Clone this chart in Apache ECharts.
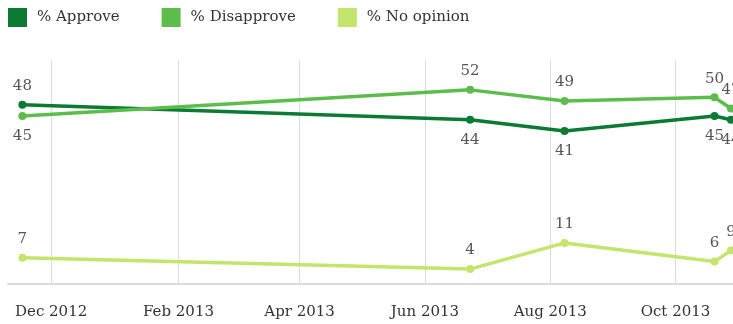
<!DOCTYPE html>
<html>
<head>
<meta charset="utf-8">
<script src="https://cdn.jsdelivr.net/npm/echarts@6/dist/echarts.min.js"></script>
<style>
  html, body { margin: 0; padding: 0; background: #fff; }
  #main { width: 733px; height: 324px; }
</style>
</head>
<body>
<div id="main"></div>
<script>
// poll dates and results
var dates = ['2012-11-17', '2013-06-23', '2013-08-08', '2013-10-20', '2013-10-28'];
var approve = [48, 44, 41, 45, 44];
var disapprove = [45, 52, 49, 50, 47];
var noOpinion = [7, 4, 11, 6, 9];
var tickDates = ['2012-12-01', '2013-02-01', '2013-04-01', '2013-06-01', '2013-08-01', '2013-10-01'];
var monthNames = ['Jan', 'Feb', 'Mar', 'Apr', 'May', 'Jun', 'Jul', 'Aug', 'Sep', 'Oct', 'Nov', 'Dec'];

var FONT = 'DejaVu Serif';

function ts(s) {
    var p = s.split('-');
    return Date.UTC(+p[0], +p[1] - 1, +p[2]);
}

// label above or below each point
function pairs(vals, labelPos) {
    var d = [];
    for (var i = 0; i < vals.length; i++) {
        d.push({
            value: [ts(dates[i]), vals[i]],
            label: { position: labelPos[i], distance: labelPos[i] === 'top' ? 7 : 9 }
        });
    }
    return d;
}

function lineSeries(name, vals, color, labelPos) {
    return {
        name: name,
        type: 'line',
        data: pairs(vals, labelPos),
        symbol: 'circle',
        symbolSize: 8,
        lineStyle: { width: 3.5, color: color },
        itemStyle: { color: color },
        label: {
            show: true,
            color: '#555',
            fontFamily: FONT,
            fontSize: 15
        },
        emphasis: { disabled: true },
        animation: false
    };
}

var option = {
    legend: {
        left: 8,
        top: 8,
        padding: 0,
        itemWidth: 19,
        itemHeight: 19,
        itemGap: 42,
        icon: 'rect',
        textStyle: { fontFamily: FONT, fontSize: 15, color: '#333', padding: [0, 0, 0, 5] },
        data: ['% Approve', '% Disapprove', '% No opinion']
    },
    grid: { left: 8, right: 0, top: 60, bottom: 40 },
    xAxis: {
        type: 'value',
        min: ts('2012-11-10'),
        max: ts('2013-10-29'),
        axisLine: { lineStyle: { color: '#dcdcdc', width: 2 } },
        axisTick: { show: false, customValues: tickDates.map(ts) },
        splitLine: { show: true, lineStyle: { color: '#dcdcdc', width: 1 } },
        axisLabel: {
            customValues: tickDates.map(ts),
            margin: 21,
            color: '#333',
            fontFamily: FONT,
            fontSize: 15,
            formatter: function (v) {
                var d = new Date(v);
                return monthNames[d.getUTCMonth()] + ' ' + d.getUTCFullYear();
            }
        }
    },
    yAxis: {
        type: 'value',
        min: 0,
        max: 60,
        show: false,
        splitLine: { show: false }
    },
    series: [
        lineSeries('% Approve', approve, '#0b7a33', ['top', 'bottom', 'bottom', 'bottom', 'bottom']),
        lineSeries('% Disapprove', disapprove, '#5dbd4c', ['bottom', 'top', 'top', 'top', 'top']),
        lineSeries('% No opinion', noOpinion, '#c3e56b', ['top', 'top', 'top', 'top', 'top'])
    ]
};

var myChart = echarts.init(document.getElementById('main'));
myChart.setOption(option);
</script>
</body>
</html>
